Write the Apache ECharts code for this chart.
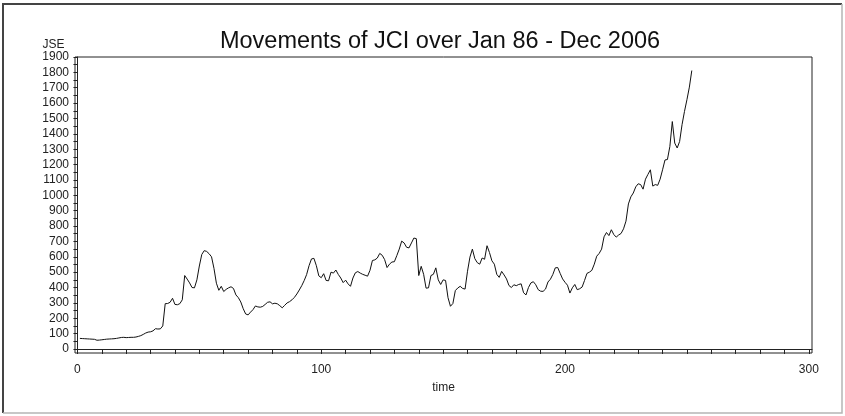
<!DOCTYPE html>
<html>
<head>
<meta charset="utf-8">
<script src="https://cdn.jsdelivr.net/npm/echarts@6.0.0/dist/echarts.min.js"></script>
<style>
html, body { margin: 0; padding: 0; background: #fff; }
#main { width: 845px; height: 416px; }
</style>
</head>
<body>
<div id="main"></div>
<script>
// monthly JSE index, t = 1 .. 252 (Jan 86 - Dec 2006)
var jse = [
	69, 68, 67, 66, 65, 64, 63, 57, 58, 60,
	62, 64, 65, 66, 67, 69, 72, 75, 76, 74,
	75, 76, 76, 78, 82, 87, 95, 104, 110, 112,
	118, 132, 130, 131, 150, 295, 296, 304, 330, 290,
	288, 295, 320, 478, 455, 430, 400, 398, 450, 540,
	615, 640, 635, 620, 600, 525, 428, 382, 408, 374,
	388, 398, 405, 394, 352, 334, 306, 262, 228, 222,
	240, 256, 280, 274, 272, 277, 290, 304, 307, 294,
	298, 294, 282, 268, 284, 300, 308, 320, 336, 358,
	384, 412, 445, 484, 542, 586, 590, 542, 476, 464,
	490, 446, 444, 500, 494, 514, 485, 462, 432, 448,
	424, 408, 462, 496, 504, 494, 486, 480, 474, 512,
	576, 580, 592, 622, 610, 582, 530, 552, 566, 568,
	608, 650, 702, 690, 662, 658, 690, 722, 718, 478,
	538, 486, 396, 398, 478, 486, 528, 450, 420, 450,
	446, 334, 278, 296, 380, 397, 408, 394, 390, 506,
	598, 650, 588, 562, 552, 592, 584, 672, 628, 574,
	552, 486, 466, 505, 482, 456, 413, 400, 418, 412,
	420, 424, 366, 352, 400, 430, 438, 418, 386, 376,
	375, 390, 436, 454, 485, 528, 530, 492, 456, 434,
	415, 364, 398, 420, 386, 392, 403, 446, 492, 500,
	512, 552, 604, 622, 650, 730, 758, 738, 776, 745,
	728, 742, 752, 782, 832, 944, 990, 1015, 1055, 1075,
	1070, 1040, 1105, 1136, 1166, 1060, 1070, 1065, 1105, 1166,
	1230, 1233, 1318, 1480, 1340, 1308, 1350, 1460, 1546, 1622,
	1704, 1812
];

var xLabels = [0, 100, 200, 300];
var xTicks = [0, 10, 20, 30, 40, 50, 60, 70, 80, 90, 100, 110, 120, 130, 140, 150,
	160, 170, 180, 190, 200, 210, 220, 230, 240, 250, 260, 270, 280, 290, 300];
var yLabels = [0, 100, 200, 300, 400, 500, 600, 700, 800, 900, 1000,
	1100, 1200, 1300, 1400, 1500, 1600, 1700, 1800, 1900];
var yTicks = [];
for (var i = 0; i < yLabels.length; i++) {
	yTicks.push(yLabels[i]);
	if (i < yLabels.length - 1) yTicks.push(yLabels[i] + 50);
}

var points = jse.map(function(v, i) {
	return [i + 1, v];
});

var chart = echarts.init(document.getElementById('main'));

var fontName = 'Liberation Sans, Arial, sans-serif';

option = {
	backgroundColor: '#fff',
	animation: false,
	title: {
		text: 'Movements of JCI over Jan 86 - Dec 2006',
		left: 435,
		top: 25,
		textAlign: 'center',
		textStyle: {
			fontFamily: fontName,
			fontSize: 23.5,
			fontWeight: 'normal',
			color: '#111'
		}
	},
	grid: {
		left: 75,
		right: 33,
		top: 57,
		bottom: 63,
		show: true,
		borderColor: '#222',
		borderWidth: 1
	},
	xAxis: {
		type: 'value',
		min: -1,
		max: 301.3,
		name: 'time',
		nameLocation: 'middle',
		nameGap: 29,
		nameTextStyle: {
			fontFamily: fontName,
			fontSize: 12,
			color: '#222'
		},
		axisLine: { show: true, lineStyle: { color: '#222', width: 1 } },
		axisTick: {
			show: true,
			length: 5,
			customValues: xTicks,
			lineStyle: { color: '#222' }
		},
		axisLabel: {
			customValues: xLabels,
			margin: 11,
			fontFamily: fontName,
			fontSize: 12,
			color: '#222',
			formatter: function(v) { return String(v); }
		},
		splitLine: { show: false }
	},
	yAxis: {
		type: 'value',
		min: -26,
		max: 1900,
		name: 'JSE',
		nameLocation: 'end',
		nameGap: 6,
		nameTextStyle: {
			fontFamily: fontName,
			fontSize: 12,
			color: '#222',
			align: 'right',
			padding: [0, 13, 0, 0]
		},
		axisLine: { show: true, lineStyle: { color: '#222', width: 1 } },
		axisTick: {
			show: true,
			length: 4,
			customValues: yTicks,
			lineStyle: { color: '#222' }
		},
		axisLabel: {
			customValues: yLabels,
			margin: 6,
			fontFamily: fontName,
			fontSize: 12,
			color: '#222',
			formatter: function(v) { return String(v); }
		},
		splitLine: { show: false }
	},
	graphic: [{
		type: 'polyline',
		shape: { points: [[3, 413], [3, 4], [842, 4]] },
		style: { stroke: '#444', lineWidth: 2, fill: null }
	}, {
		type: 'polyline',
		shape: { points: [[3, 413], [842, 413], [842, 4]] },
		style: { stroke: '#b5b5b5', lineWidth: 1.5, fill: null }
	}],
	series: [{
		name: 'JSE',
		type: 'line',
		data: points,
		showSymbol: false,
		lineStyle: { color: '#111', width: 1 },
		itemStyle: { color: '#111' }
	}]
};

chart.setOption(option);
</script>
</body>
</html>
